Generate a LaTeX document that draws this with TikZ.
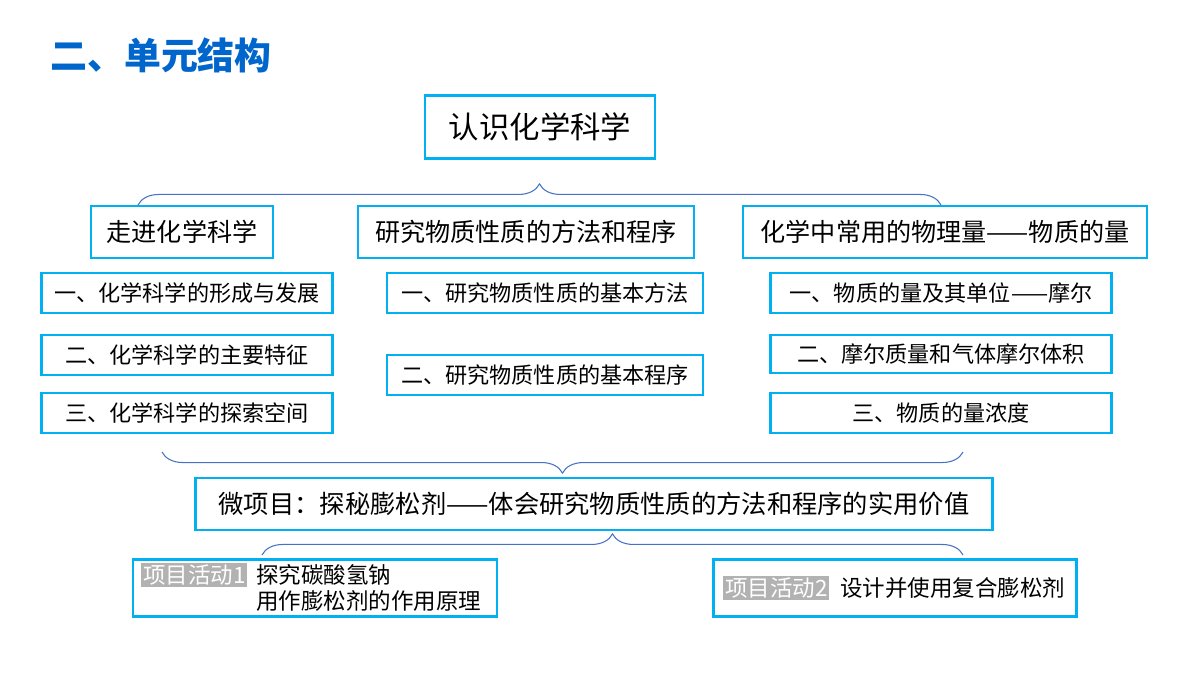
\documentclass[tikz,border=0pt]{standalone}
\usepackage{fontspec}
\setmainfont{Noto Sans CJK SC}
\usetikzlibrary{decorations.pathreplacing}
\definecolor{boxcyan}{RGB}{0,176,240}
\definecolor{bracecol}{RGB}{68,114,196}
\definecolor{headblue}{RGB}{0,102,204}
\tikzset{every node/.style={align=center, inner sep=0pt}}
\tikzstyle{box} = [draw=boxcyan, line width=1.6pt, anchor=center]
\tikzstyle{brc} = [draw=bracecol, line width=0.6pt, decorate, decoration={brace, amplitude=12pt}]
\tikzstyle{tag} = [fill=black!30, text=white, inner sep=1pt, font=\fontsize{12.8}{15}\selectfont]

\begin{document}
\begin{tikzpicture}[x=0.02cm, y=-0.02cm, font=\fontsize{12.6}{15}\selectfont]
		\useasboundingbox (0,0) rectangle (1200,675);
		
		% Heading
		\node[anchor=west, text=headblue, font=\fontsize{21}{24}\selectfont\bfseries] (head) at (50,55) {二、单元结构};
		
		% Top
		\node[box, minimum width=230*0.02cm, minimum height=63*0.02cm, font=\fontsize{17.3}{20}\selectfont] (top) at (540,127) {认识化学科学};
		
		% Chapters
		\node[box, minimum width=182*0.02cm, minimum height=52*0.02cm, font=\fontsize{14.3}{17}\selectfont] (ch1) at (182,232) {走进化学科学};
		\node[box, minimum width=336*0.02cm, minimum height=52*0.02cm, font=\fontsize{14.3}{17}\selectfont] (ch2) at (526,232) {研究物质性质的方法和程序};
		\node[box, minimum width=404*0.02cm, minimum height=52*0.02cm, font=\fontsize{14.3}{17}\selectfont] (ch3) at (945,232) {化学中常用的物理量——物质的量};
		
		%% Sections
		\node[box, minimum width=291*0.02cm, minimum height=40*0.02cm] (s11) at (187,293) {一、化学科学的形成与发展};
		\node[box, minimum width=291*0.02cm, minimum height=40*0.02cm] (s12) at (187,355) {二、化学科学的主要特征};
		\node[box, minimum width=291*0.02cm, minimum height=40*0.02cm] (s13) at (187,413) {三、化学科学的探索空间};
		\node[box, minimum width=316*0.02cm, minimum height=40*0.02cm] (s21) at (545,293) {一、研究物质性质的基本方法};
		\node[box, minimum width=316*0.02cm, minimum height=40*0.02cm] (s22) at (545,375) {二、研究物质性质的基本程序};
		\node[box, minimum width=341*0.02cm, minimum height=40*0.02cm] (s31) at (941,293) {一、物质的量及其单位——摩尔};
		\node[box, minimum width=341*0.02cm, minimum height=38*0.02cm] (s32) at (941,354) {二、摩尔质量和气体摩尔体积};
		\node[box, minimum width=341*0.02cm, minimum height=40*0.02cm] (s33) at (941,413) {三、物质的量浓度};
		
		% Micro project
		\node[box, minimum width=797*0.02cm, minimum height=52*0.02cm, font=\fontsize{14.4}{17}\selectfont] (micro) at (594,504) {微项目：探秘膨松剂——体会研究物质性质的方法和程序的实用价值};
		
		%% Activities
		\node[box, minimum width=364*0.02cm, minimum height=57*0.02cm] (act1) at (315,588) {};
		\node[box, minimum width=363*0.02cm, minimum height=57*0.02cm] (act2) at (895,588) {};
		\node[tag, anchor=west] (tag1) at (141,575) {项目活动1};
		\node[anchor=west, align=left, font=\fontsize{12.8}{15}\selectfont] (txt1) at (256,588) {探究碳酸氢钠\\用作膨松剂的作用原理};
		\node[tag, anchor=west] (tag2) at (723,588) {项目活动2};
		\node[anchor=west, font=\fontsize{12.8}{15}\selectfont] (txt2) at (840,588) {设计并使用复合膨松剂};
		
		% Braces
		\coordinate (b1l) at (138,205);
		\coordinate (b1r) at (941,205);
		\coordinate (b2l) at (162,452);
		\coordinate (b2r) at (963,452);
		\coordinate (b3l) at (262,555);
		\coordinate (b3r) at (963,555);
		\draw[brc] (b1l) -- (b1r);
		\draw[brc, decoration={mirror}] (b2l) -- (b2r);
		\draw[brc] (b3l) -- (b3r);
	\end{tikzpicture}
\end{document}
